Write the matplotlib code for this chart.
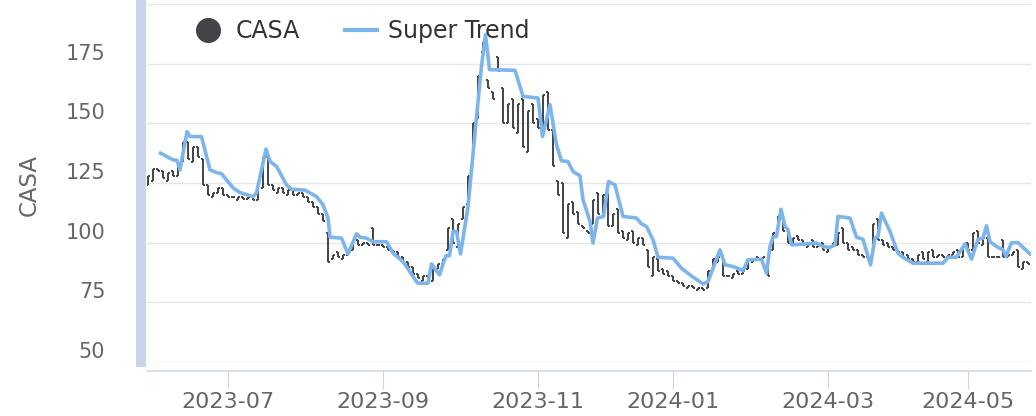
import numpy as np
import matplotlib
matplotlib.use("Agg")
import matplotlib.pyplot as plt
from matplotlib.lines import Line2D

# daily bars (ordinal axis, one slot per trading record)
opens = [124, 126, 131, 130, 126, 130, 128, 134, 142, 134,
         140, 135, 124, 119, 121, 123, 120, 119, 118, 119,
         118.5, 119, 118, 123, 136, 124, 121, 123, 120, 122,
         120, 121, 119, 117, 115, 112, 104, 93, 96, 93,
         95, 97, 101, 99, 100, 106, 99, 99, 98, 97,
         96, 94, 92, 90, 87, 84, 86, 84, 89, 91,
         97, 110, 98, 110, 116, 133, 152, 180, 168, 163,
         178, 165, 150, 160, 146, 160, 138, 158, 152, 149,
         163, 147, 126, 125, 102, 117, 113, 107, 105, 108,
         121, 111, 121, 107, 114, 105, 101, 105, 99, 102,
         97, 86, 93, 89, 88, 86, 84, 83, 81, 82,
         80, 81, 81, 89, 92, 95, 86, 85, 88, 87,
         89, 92, 94, 93, 91, 97, 105, 112, 106, 99,
         103, 101, 98, 101, 98, 100, 96, 98, 99, 106,
         100, 98, 97, 95, 94, 96, 110, 101, 100, 98,
         97, 96, 95, 93, 92, 96, 92, 97, 94, 95,
         94, 95, 97, 94, 100, 97, 105, 99, 102, 94,
         94, 101, 94, 95, 97, 89, 92]
closes = [128, 131, 130, 127, 129, 128, 133, 142, 135, 140,
          136, 124, 120, 121, 123, 120, 119, 119, 119, 118.5,
          119, 118, 124, 136, 124, 122, 123, 121, 122, 120,
          121, 119, 117, 115, 112, 109, 92, 95, 94, 95,
          97, 101, 99, 100, 99, 99, 99, 98, 97, 96,
          94, 92, 90, 87, 85, 86, 84, 89, 91, 93,
          106, 100, 108, 115, 128, 150, 170, 184, 165, 160,
          172, 150, 158, 148, 158, 140, 155, 150, 148, 162,
          147, 132, 120, 104, 116, 112, 108, 106, 104, 118,
          112, 120, 107, 112, 104, 102, 104, 100, 102, 99,
          90, 94, 88, 87, 86, 84, 83, 82, 82, 81,
          81, 80, 88, 93, 94, 86, 86, 87, 87, 88,
          93, 93, 93, 94, 86, 104, 111, 105, 100, 102,
          101, 99, 100, 98, 99, 97, 98, 100, 104, 100,
          97, 97, 95, 94, 93, 108, 101, 99, 98, 97,
          96, 94, 93, 92, 95, 93, 96, 94, 95, 94,
          95, 96, 94, 99, 97, 104, 100, 102, 94, 94,
          94, 94, 95, 96, 90, 92, 91]

# super trend line (breakpoints on the same ordinal axis)
st_x = [2.5, 5, 5.8, 6.4, 7.8, 8.4, 10.7, 12.4, 13.7, 14.7, 17, 18.4, 21, 21.7,
        23.6, 24.4, 25.7, 27.7, 28.7, 31.4, 33.7, 35, 36, 36.4, 38.7, 40, 41.7,
        42.4, 43.7, 45, 47.7, 49, 51, 53.7, 54, 56, 56.7, 58.3, 59.6, 60.3, 61,
        61.7, 62.5, 64, 65.4, 66.7, 67.5, 68.3, 73.4, 75, 78, 78.9, 80.4, 81.7,
        82.7, 84, 85, 86.4, 87, 88.4, 89, 89.9, 91.1, 92.1, 93.4, 95, 97.7, 98.7,
        99.7, 101, 102, 105, 106.7, 108.4, 111, 112, 114.4, 115.4, 117, 119, 120,
        122.7, 123.7, 124.4, 125, 125.7, 126.6, 127.4, 128, 128.7, 133.7, 135,
        136.4, 137.4, 138, 140.4, 141.7, 143, 144.5, 145.4, 146, 146.7, 148.4,
        150, 151, 153, 159, 160, 161.7, 163.4, 164.7, 166, 167, 167.7, 168.4,
        169.7, 171, 171.6, 172.7, 174, 176.4]
st_y = [137.5, 134.7, 134.5, 130.5, 146.5, 144.5, 144.4, 130.5, 129.4, 128.9, 123, 121, 119.3, 120.8,
        139.2, 134, 132, 124.2, 122.4, 122, 119.3, 115.9, 110.4, 102.3, 101.9, 95.3, 103.7,
        102.3, 101.9, 100.4, 100.4, 95.6, 92.1, 83.7, 83, 83, 91.1, 86.5, 94.5, 94.5, 104.7,
        104.7, 95.3, 115, 146, 173.9, 187.2, 172.5, 172.2, 161.3, 160.6, 144.5, 157.8, 141,
        134.3, 134, 129.8, 128, 118, 108.9, 99.8, 110.3, 111, 125.6, 124.2, 111, 110.3, 107.9,
        106.8, 101.2, 93.9, 93.5, 89.3, 86.5, 82.7, 83.7, 97, 90.7, 90, 88.3, 92.8,
        93.1, 87.2, 98.4, 102.3, 102.6, 114, 106.8, 105.4, 99.1, 99.8, 98.4,
        98, 99.1, 111, 110.3, 102.3, 101.4, 90.7, 101.9, 102.6, 112.4, 104.7,
        95.6, 93.9, 91.4, 91.4, 93.9, 93.9, 99.5, 93.1, 101.4, 101.9, 107.1, 100.4,
        98.4, 97, 94.2, 100, 100, 95.3]

tick_pos = [16, 47, 78, 105, 136, 164]
tick_labels = ["2023-07", "2023-09", "2023-11", "2024-01", "2024-03", "2024-05"]
y_ticks = [50, 75, 100, 125, 150, 175, 200]

bar_color = "#434348"
trend_color = "#7cb5ec"
axis_color = "#ccd6eb"

fig = plt.figure(figsize=(10.36, 4.16), dpi=100)
W, H = 1036, 416
ax = fig.add_axes([147 / W, 1 - 362 / H, (1031 - 147) / W, (362 - 4) / H])

x = np.arange(len(closes))
o = np.array(opens)
c = np.array(closes)
ax.vlines(x, np.minimum(o, c), np.maximum(o, c), color=bar_color, lw=1.4, zorder=2)
ax.hlines(o, x - 0.45, x, color=bar_color, lw=1.4, zorder=2)
ax.hlines(c, x, x + 0.45, color=bar_color, lw=1.4, zorder=2)

ax.plot(st_x, st_y, color=trend_color, lw=2.6, solid_joinstyle="round", zorder=3)

ax.set_xlim(-0.2, 176.6)
ax.set_ylim(50, 200)
ax.set_yticks(y_ticks)
ax.set_yticklabels([str(v) if v < 200 else "" for v in y_ticks])
ax.set_xticks(tick_pos)
ax.set_xticklabels(tick_labels)
ax.grid(axis="y", color="#e6e6e6", lw=1.0, zorder=0)

for s in ["top", "right"]:
    ax.spines[s].set_visible(False)
ax.spines["left"].set_color("#c9d5ea")
ax.spines["left"].set_linewidth(7.2)
ax.spines["left"].set_position(("outward", 4))
ax.spines["bottom"].set_color(axis_color)
ax.spines["bottom"].set_linewidth(1.1)
ax.spines["bottom"].set_position(("outward", 6.5))

ax.tick_params(axis="y", length=0, pad=26, labelsize=15, labelcolor="#666666")
ax.tick_params(axis="x", length=13, width=0.8, color=axis_color, pad=2,
               labelsize=16, labelcolor="#666666")
for lab in ax.get_yticklabels():
    lab.set_verticalalignment("bottom")

fig.text(29 / W, 1 - 185 / H, "CASA", rotation=90, ha="center", va="center",
         fontsize=16.5, color="#666666")

handles = [
    Line2D([], [], ls="none", marker="o", markersize=17, color=bar_color),
    Line2D([], [], color=trend_color, lw=3),
]
fig.legend(handles, ["CASA", "Super Trend"], loc="center", ncol=2,
           bbox_to_anchor=(361 / W, 1 - 31 / H), frameon=False, fontsize=17,
           labelcolor="#333333", handlelength=1.35, handletextpad=0.5,
           columnspacing=1.9, borderpad=0)

fig.savefig("out.png", dpi=100)
